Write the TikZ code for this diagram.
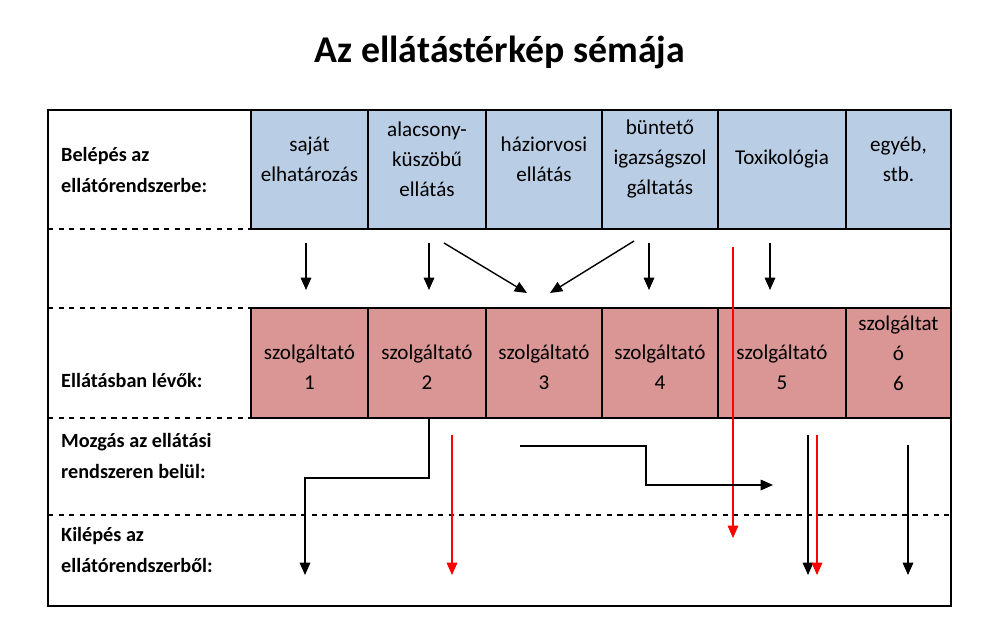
\documentclass[tikz,border=0pt]{standalone}
\usepackage{fontspec}
\setmainfont{Carlito}
\usetikzlibrary{arrows.meta}
\definecolor{entryblue}{RGB}{185,205,228}
\definecolor{provpink}{RGB}{217,150,148}
\tikzset{
  cell/.style={draw=black, line width=1pt, inner sep=0pt},
  celltext/.style={align=center, inner sep=0pt, font=\fontsize{12}{17}\selectfont},
  rowlabel/.style={anchor=west, align=left, font=\bfseries\fontsize{11.5}{18}\selectfont},
  flow/.style={-{Triangle[length=7pt,width=6pt]}, line width=0.8pt},
  exitflow/.style={flow, red},
  sep/.style={dashed, line width=1pt}
}
\begin{document}
\begin{tikzpicture}[x=0.02cm, y=-0.02cm]
\useasboundingbox (0,0) rectangle (1002,623);
% title
\node (title) at (500,52) {\bfseries\fontsize{21.5}{24}\selectfont Az ellátástérkép sémája};
%% row separators
\draw[sep] (48,229) -- (251,229);
\draw[sep] (48,308) -- (951,308);
\draw[sep] (48,418) -- (251,418);
\draw[sep] (48,515) -- (951,515);
%% entry cells
\foreach \n/\a/\b/\t in {e1/251/368/{saját\\elhatározás},
                          e2/368/486/{alacsony-\\küszöbű\\ellátás},
                          e3/486/602/{háziorvosi\\ellátás},
                          e4/602/718/{büntető\\igazságszol\\gáltatás},
                          e5/718/846/{Toxikológia},
                          e6/846/951/{egyéb,\\stb.}}
{
  \node[cell, fill=entryblue, minimum width={(\b-\a)*0.02cm}, minimum height=2.38cm]
    (\n) at ({(\a+\b)/2},169.5) {};
  \node[celltext] (\n t) at ({(\a+\b)/2},159) {\t};
}
%% provider cells
\foreach \n/\a/\b/\t/\y in {p1/251/368/{szolgáltató\\1}/367,
                          p2/368/486/{szolgáltató\\2}/367,
                          p3/486/602/{szolgáltató\\3}/367,
                          p4/602/718/{szolgáltató\\4}/367,
                          p5/718/846/{szolgáltató\\5}/367,
                          p6/846/951/{szolgáltat\\ó\\6}/353}
{
  \node[cell, fill=provpink, minimum width={(\b-\a)*0.02cm}, minimum height=2.2cm]
    (\n) at ({(\a+\b)/2},363) {};
  \node[celltext] (\n t) at ({(\a+\b)/2},\y) {\t};
}
% frame
\draw[line width=1.2pt] (48,110) rectangle (951,606);
%% row labels
\node[rowlabel] (lin) at (55,170) {Belépés az\\ellátórendszerbe:};
\node[rowlabel] (lprov) at (55,380) {Ellátásban lévők:};
\node[rowlabel] (lmove) at (55,456) {Mozgás az ellátási\\rendszeren belül:};
\node[rowlabel] (lout) at (55,550) {Kilépés az\\ellátórendszerből:};
%% entry arrows
\draw[flow] (306,243) -- (306,290);
\draw[flow] (429,243) -- (429,290);
\draw[flow] (444,243) -- (527,293);
\draw[flow] (634,241) -- (550,293);
\draw[flow] (649,243) -- (649,290);
\draw[flow] (770,243) -- (770,290);
\draw[exitflow] (733,247) -- (733,538);
%% movement and exit arrows
\coordinate (out2) at (429,418);
\draw[flow] (out2) -- (429,478) -- (305,478) -- (305,575);
\draw[exitflow] (452,435) -- (452,575);
\draw[flow] (520,446) -- (646,446) -- (646,485) -- (773,485);
\draw[flow] (808,435) -- (808,575);
\draw[exitflow] (817,435) -- (817,575);
\draw[flow] (908,445) -- (908,575);
\end{tikzpicture}
\end{document}
